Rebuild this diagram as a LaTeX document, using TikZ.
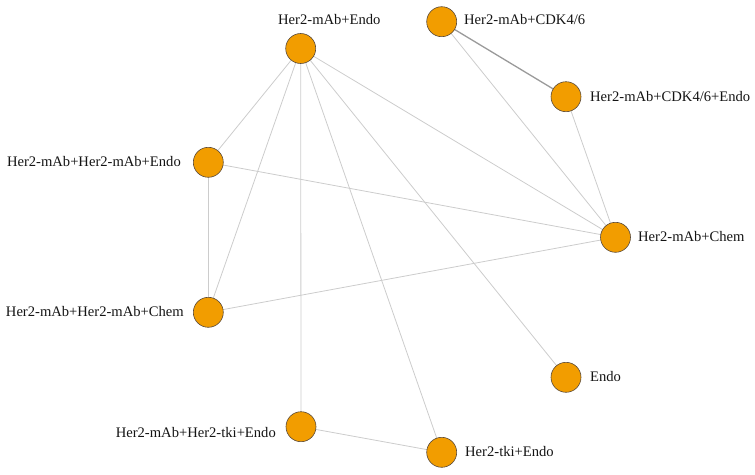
\documentclass[tikz,border=0pt]{standalone}
\usepackage{fontspec}
\setmainfont{Liberation Serif}
\definecolor{nodeorange}{HTML}{F29D00}
\definecolor{nodeline}{HTML}{5A4A3A}
\definecolor{edgegrey}{HTML}{CCCCCC}
\definecolor{edgedark}{HTML}{9A9A9A}
\pgfdeclarelayer{bg}
\pgfsetlayers{bg,main}
\begin{document}
\begin{tikzpicture}[x=1pt,y=-1pt,
  trt/.style={circle,fill=nodeorange,draw=nodeline,line width=0.6pt,minimum size=30pt,inner sep=0pt},
  lbl/.style={inner sep=0pt,font=\fontsize{14.6}{17}\selectfont,text=black!92},
  edge/.style={draw=edgegrey,line width=0.8pt},
  edgeheavy/.style={draw=edgedark,line width=1.3pt}]
\useasboundingbox (0,0) rectangle (755,474);
% nodes
\node[trt] (me) at (300.7,48.5) {};
\node[trt] (cdk) at (441.7,21.7) {};
\node[trt] (cdke) at (566,96.7) {};
\node[trt] (hhe) at (208.3,162.3) {};
\node[trt] (chem) at (615.5,237.3) {};
\node[trt] (hhc) at (208.3,312.3) {};
\node[trt] (endo) at (566,377.3) {};
\node[trt] (hte) at (301,426.7) {};
\node[trt] (tki) at (441.7,452.3) {};
% edges
\begin{pgfonlayer}{bg}
\draw[edge] (me.center) -- (hhe.center);
\draw[edge] (me.center) -- (hhc.center);
\draw[edge] (me.center) -- (hte.center);
\draw[edge] (me.center) -- (tki.center);
\draw[edge] (me.center) -- (endo.center);
\draw[edge] (me.center) -- (chem.center);
\draw[edge] (hhe.center) -- (hhc.center);
\draw[edge] (hhe.center) -- (chem.center);
\draw[edge] (hhc.center) -- (chem.center);
\draw[edge] (cdk.center) -- (chem.center);
\draw[edge] (cdke.center) -- (chem.center);
\draw[edgeheavy] (cdk.center) -- (cdke.center);
\draw[edge] (hte.center) -- (tki.center);
\end{pgfonlayer}
% labels
\node[lbl,anchor=west] (lme) at (278,20) {Her2-mAb+Endo};
\node[lbl,anchor=west] (lcdk) at (464,20) {Her2-mAb+CDK4/6};
\node[lbl,anchor=west] (lcdke) at (590,97) {Her2-mAb+CDK4/6+Endo};
\node[lbl,anchor=east] (lhhe) at (181,162) {Her2-mAb+Her2-mAb+Endo};
\node[lbl,anchor=west] (lchem) at (638,237) {Her2-mAb+Chem};
\node[lbl,anchor=east] (lhhc) at (184,312) {Her2-mAb+Her2-mAb+Chem};
\node[lbl,anchor=west] (lendo) at (590,377) {Endo};
\node[lbl,anchor=east] (lhte) at (276,432.5) {Her2-mAb+Her2-tki+Endo};
\node[lbl,anchor=west] (ltki) at (465,452) {Her2-tki+Endo};
\end{tikzpicture}
\end{document}
